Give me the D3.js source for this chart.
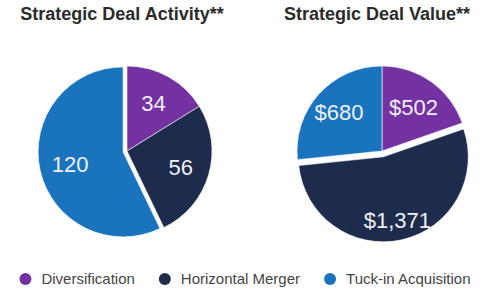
<!DOCTYPE html>
<html>
<head>
<meta charset="utf-8">
<script src="https://cdn.jsdelivr.net/npm/d3@7"></script>
<style>
  body { margin: 0; background: #fff; }
  text { font-family: "Liberation Sans", Arial, Helvetica, sans-serif; }
</style>
</head>
<body>
<svg id="chart" width="500" height="300"></svg>
<script>
const categories = ["Diversification", "Horizontal Merger", "Tuck-in Acquisition"];
const colors = ["#7331a1", "#1d2b4c", "#1a74bd"];

const titles = ["Strategic Deal Activity**", "Strategic Deal Value**"];
const activityValues = [34, 56, 120];
const valueValues = [502, 1371, 680];
const activityLabels = ["34", "56", "120"];
const valueLabels = ["$502", "$1,371", "$680"];

const svg = d3.select("#chart");
const r = 85;

const panels = [
  {cx: 127, cy: 151, title: titles[0], values: activityValues, labels: activityLabels,
   explode: [0, 0, 4], labelR: [0.64, 0.66, 0.64]},
  {cx: 382, cy: 151, title: titles[1], values: valueValues, labels: valueLabels,
   explode: [0, 6, 0], labelR: [0.64, 0.76, 0.68]}
];

const color = d3.scaleOrdinal().domain(categories).range(colors);

panels.forEach(p => {
  const data = categories.map((c, i) => ({cat: c, value: p.values[i], label: p.labels[i],
    explode: p.explode[i], lr: p.labelR[i]}));
  const pie = d3.pie().sort(null).value(d => d.value)(data);
  const arc = d3.arc().outerRadius(r).innerRadius(0);
  const midArc = d3.arc().outerRadius(1).innerRadius(1);

  svg.append("text")
    .attr("x", p.cx - 5)
    .attr("y", 20)
    .attr("text-anchor", "middle")
    .attr("font-size", 18)
    .attr("font-weight", "bold")
    .attr("fill", "#2b2b2b")
    .text(p.title);

  const g = svg.append("g")
    .attr("transform", "translate(" + p.cx + "," + p.cy + ")");

  const slice = g.selectAll("g.arc")
    .data(pie)
    .enter().append("g")
    .attr("class", "arc")
    .attr("transform", d => {
      const c = midArc.centroid(d);
      return "translate(" + (c[0] * d.data.explode) + "," + (c[1] * d.data.explode) + ")";
    });

  slice.append("path")
    .attr("d", arc)
    .attr("fill", d => color(d.data.cat))
    .attr("stroke", "#fff")
    .attr("stroke-width", 0.6);

  slice.append("text")
    .attr("transform", d => {
      const c = midArc.centroid(d);
      return "translate(" + (c[0] * r * d.data.lr) + "," + (c[1] * r * d.data.lr) + ")";
    })
    .attr("text-anchor", "middle")
    .attr("dy", "0.36em")
    .attr("font-size", 22)
    .attr("fill", "#f0f0f4")
    .text(d => d.data.label);
});

// legend
const legend = svg.append("g");
let x = 0;
categories.forEach((c, i) => {
  const item = legend.append("g").attr("transform", "translate(" + x + ",0)");
  item.append("circle").attr("cx", 6).attr("cy", 0).attr("r", 6).attr("fill", colors[i]);
  const t = item.append("text")
    .attr("x", 22)
    .attr("y", 5)
    .attr("font-size", 15)
    .attr("fill", "#444")
    .text(c);
  x += 22 + t.node().getComputedTextLength() + 24;
});
const legendW = x - 24;
legend.attr("transform", "translate(" + (245 - legendW / 2) + ",279)");
</script>
</body>
</html>
